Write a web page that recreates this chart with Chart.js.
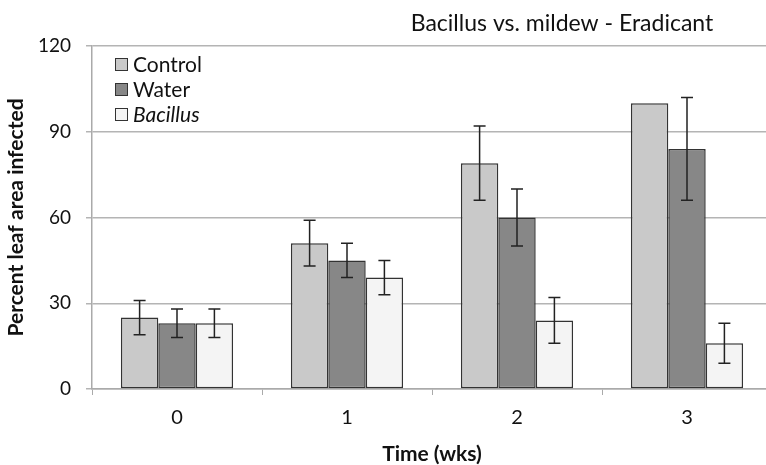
<!DOCTYPE html>
<html lang="en">
<head>
    <meta charset="UTF-8">
    <title>Bacillus vs. mildew - Eradicant</title>
    <script src="https://cdn.jsdelivr.net/npm/chart.js"></script>
    <style>
        html, body { margin: 0; padding: 0; background: #fff; overflow: hidden; }
        #wrap { width: 772px; height: 465px; }
    </style>
</head>
<body>
    <div id="wrap"><canvas id="mildewChart" width="772" height="465"></canvas></div>
    <script>
        // Data
        const weeks = ['0', '1', '2', '3'];
        const seriesNames = ['Control', 'Water', 'Bacillus'];
        const controlVals = [25, 51, 79, 100];
        const controlErr  = [6, 8, 13, 0];
        const waterVals   = [23, 45, 60, 84];
        const waterErr    = [5, 6, 10, 18];
        const bacillusVals = [23, 39, 24, 16];
        const bacillusErr  = [5, 6, 8, 7];
        const yTicks = [0, 30, 60, 90, 120];

        const FONT = 'Lato, "Open Sans", sans-serif';

        // Error bars, drawn from the bar elements and the y scale
        const errorBars = {
            id: 'errorBars',
            afterDatasetsDraw(chart) {
                const ctx = chart.ctx;
                const y = chart.scales.y;
                ctx.save();
                ctx.strokeStyle = '#222';
                ctx.lineWidth = 1.5;
                chart.data.datasets.forEach((ds, i) => {
                    const meta = chart.getDatasetMeta(i);
                    meta.data.forEach((bar, j) => {
                        const e = ds.errors[j];
                        if (!e) return;
                        const top = y.getPixelForValue(ds.data[j] + e);
                        const bot = y.getPixelForValue(ds.data[j] - e);
                        const cap = 6;
                        ctx.beginPath();
                        ctx.moveTo(bar.x, top); ctx.lineTo(bar.x, bot);
                        ctx.moveTo(bar.x - cap, top); ctx.lineTo(bar.x + cap, top);
                        ctx.moveTo(bar.x - cap, bot); ctx.lineTo(bar.x + cap, bot);
                        ctx.stroke();
                    });
                });
                ctx.restore();
            }
        };

        // Legend inside the plot (top left) and the title on the right
        const extras = {
            id: 'extras',
            afterDraw(chart) {
                const ctx = chart.ctx;
                ctx.save();
                ctx.textBaseline = 'middle';
                ctx.textAlign = 'left';
                chart.data.datasets.forEach((ds, i) => {
                    const ly = 65 + i * 25;
                    ctx.fillStyle = ds.backgroundColor;
                    ctx.strokeStyle = '#333';
                    ctx.lineWidth = 1;
                    ctx.fillRect(115.5, ly - 6.5, 12, 12);
                    ctx.strokeRect(115.5, ly - 6.5, 12, 12);
                    ctx.fillStyle = '#111';
                    ctx.font = (ds.italic ? 'italic ' : '') + '21px ' + FONT;
                    ctx.fillText(ds.label, 133, ly);
                });
                ctx.font = '23px ' + FONT;
                ctx.textAlign = 'center';
                ctx.fillStyle = '#111';
                ctx.fillText('Bacillus vs. mildew - Eradicant', 562, 24);
                ctx.restore();
            }
        };

        const ctx = document.getElementById('mildewChart').getContext('2d');
        new Chart(ctx, {
            type: 'bar',
            data: {
                labels: weeks,
                datasets: [
                    { label: seriesNames[0], data: controlVals, errors: controlErr, backgroundColor: '#c9c9c9' },
                    { label: seriesNames[1], data: waterVals, errors: waterErr, backgroundColor: '#878787' },
                    { label: seriesNames[2], data: bacillusVals, errors: bacillusErr, backgroundColor: '#f4f4f4', italic: true }
                ].map(d => Object.assign(d, {
                    borderColor: '#333',
                    borderWidth: 1.5,
                    borderSkipped: false,
                    barPercentage: 1.0,
                    categoryPercentage: 0.66
                }))
            },
            options: {
                responsive: false,
                animation: false,
                layout: { padding: { top: 46, right: 0, left: 0, bottom: 0 } },
                plugins: {
                    legend: { display: false },
                    title: { display: false },
                    tooltip: { enabled: false }
                },
                scales: {
                    x: {
                        afterFit(s) { s.height = 76; },
                        grid: { drawOnChartArea: false, tickLength: 6, color: '#aaa', offset: true },
                        border: { color: '#aaa', width: 1.5 },
                        ticks: { color: '#111', font: { family: FONT, size: 20 }, padding: 11 },
                        title: {
                            display: true, text: 'Time (wks)', color: '#111',
                            font: { family: FONT, size: 21, weight: 'bold', lineHeight: 1 },
                            padding: { top: 0, bottom: 0 }
                        }
                    },
                    y: {
                        min: 0, max: 120,
                        afterFit(s) { s.width = 92; },
                        afterBuildTicks(s) { s.ticks = yTicks.map(v => ({ value: v })); },
                        grid: { color: '#b4b4b4', lineWidth: 1.5, tickLength: 6 },
                        border: { color: '#aaa', width: 1.5 },
                        ticks: { color: '#111', font: { family: FONT, size: 19 }, padding: 15 },
                        title: {
                            display: true, text: 'Percent leaf area infected', color: '#111',
                            font: { family: FONT, size: 21, weight: 'bold', lineHeight: 1 },
                            padding: { top: 6, bottom: 0 }
                        }
                    }
                }
            },
            plugins: [errorBars, extras]
        });
    </script>
</body>
</html>
